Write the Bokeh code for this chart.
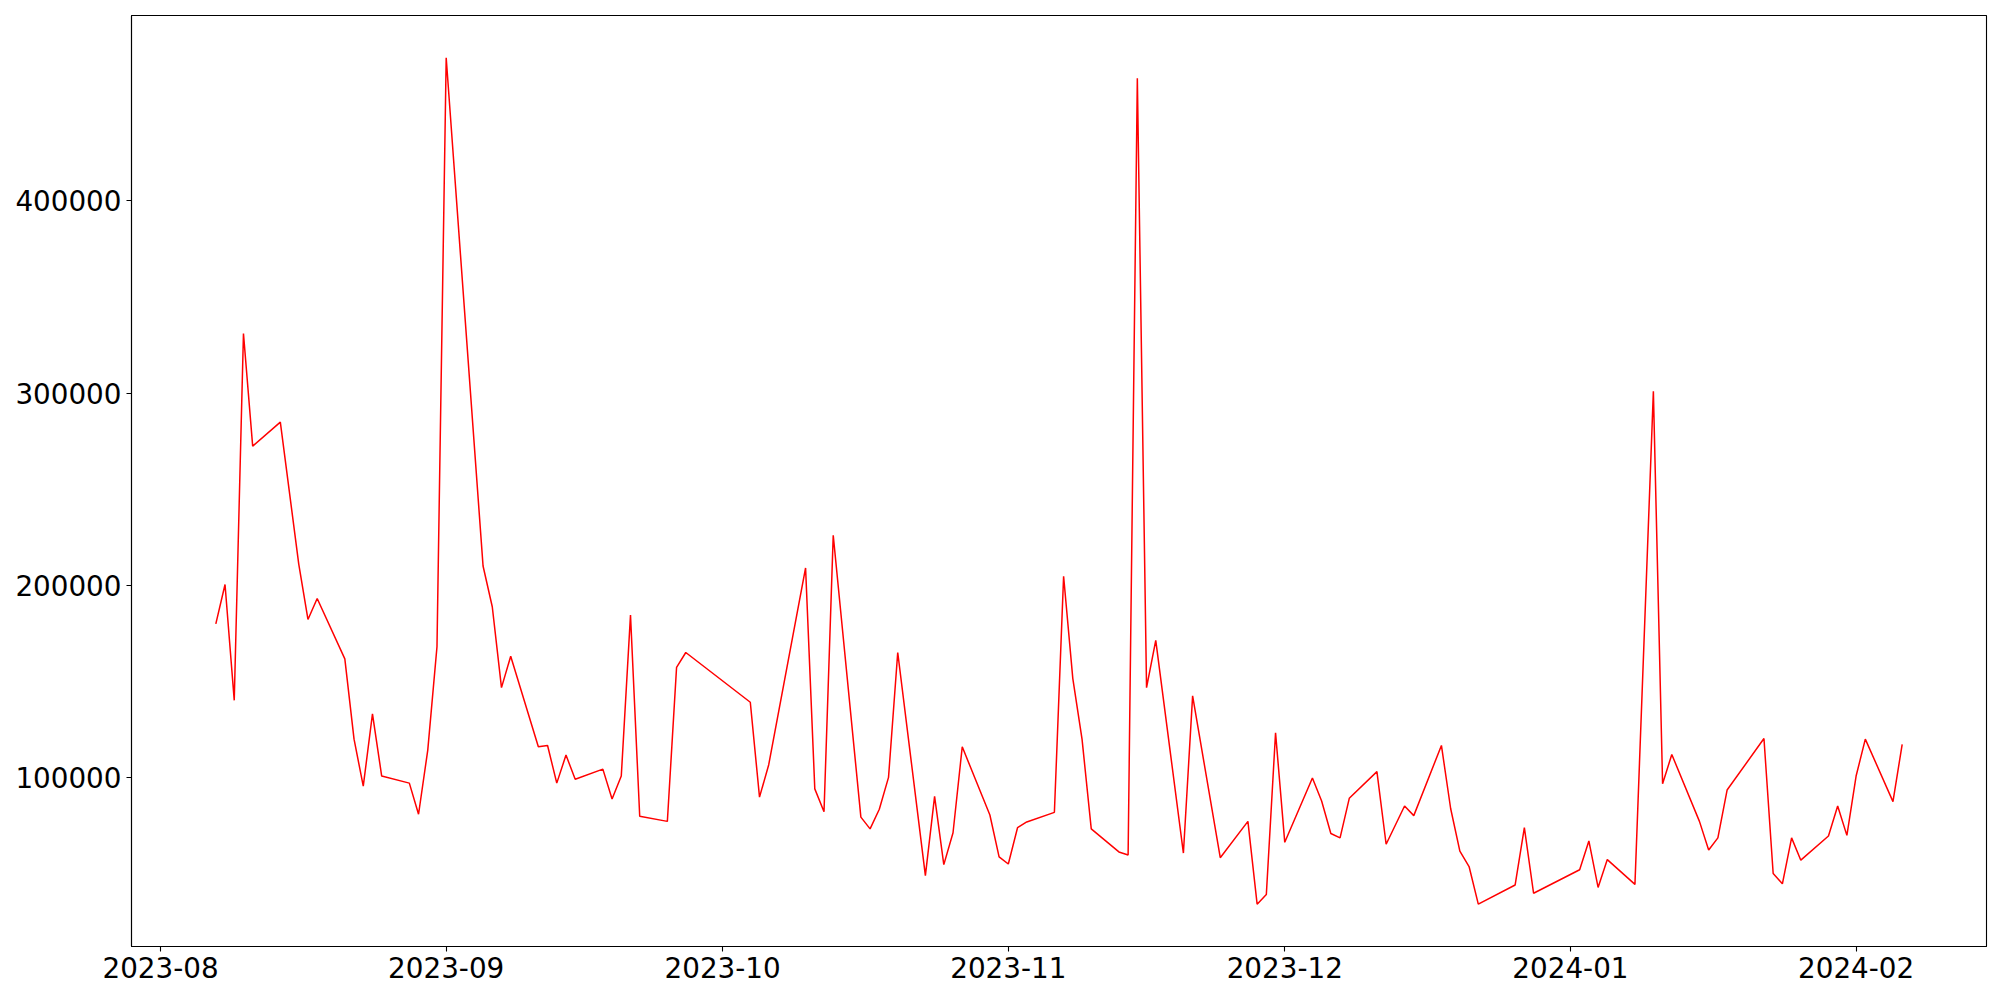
import datetime as dt
from bokeh.plotting import figure
from bokeh.models import Range1d, FixedTicker, DatetimeTickFormatter, BasicTickFormatter
from bokeh.embed import file_html
from bokeh.resources import INLINE

dates = [
    "2023-08-07", "2023-08-08", "2023-08-09", "2023-08-10", "2023-08-11", "2023-08-14",
    "2023-08-16", "2023-08-17", "2023-08-18", "2023-08-21", "2023-08-22", "2023-08-23",
    "2023-08-24", "2023-08-25", "2023-08-28", "2023-08-29", "2023-08-30", "2023-08-31",
    "2023-09-01", "2023-09-05", "2023-09-06", "2023-09-07", "2023-09-08", "2023-09-11",
    "2023-09-12", "2023-09-13", "2023-09-14", "2023-09-15", "2023-09-18", "2023-09-19",
    "2023-09-20", "2023-09-21", "2023-09-22", "2023-09-25", "2023-09-26", "2023-09-27",
    "2023-10-04", "2023-10-05", "2023-10-06", "2023-10-10", "2023-10-11", "2023-10-12",
    "2023-10-13", "2023-10-16", "2023-10-17", "2023-10-18", "2023-10-19", "2023-10-20",
    "2023-10-23", "2023-10-24", "2023-10-25", "2023-10-26", "2023-10-27", "2023-10-30",
    "2023-10-31", "2023-11-01", "2023-11-02", "2023-11-03", "2023-11-06", "2023-11-07",
    "2023-11-08", "2023-11-09", "2023-11-10", "2023-11-13", "2023-11-14", "2023-11-15",
    "2023-11-16", "2023-11-17", "2023-11-20", "2023-11-21", "2023-11-24", "2023-11-27",
    "2023-11-28", "2023-11-29", "2023-11-30", "2023-12-01", "2023-12-04", "2023-12-05",
    "2023-12-06", "2023-12-07", "2023-12-08", "2023-12-11", "2023-12-12", "2023-12-14",
    "2023-12-15", "2023-12-18", "2023-12-19", "2023-12-20", "2023-12-21", "2023-12-22",
    "2023-12-26", "2023-12-27", "2023-12-28", "2024-01-02", "2024-01-03", "2024-01-04",
    "2024-01-05", "2024-01-08", "2024-01-10", "2024-01-11", "2024-01-12", "2024-01-15",
    "2024-01-16", "2024-01-17", "2024-01-18", "2024-01-22", "2024-01-23", "2024-01-24",
    "2024-01-25", "2024-01-26", "2024-01-29", "2024-01-30", "2024-01-31", "2024-02-01",
    "2024-02-02", "2024-02-05", "2024-02-06",
]

values = [
    179900, 200400, 140100, 331000, 272400, 284900,
    211000, 182200, 193100, 161700, 119900, 95400,
    133100, 100700, 97000, 80800, 114200, 168000,
    474500, 210000, 188800, 146700, 163000, 115900,
    116600, 97000, 111600, 99000, 104300, 88700,
    100700, 184500, 79800, 77100, 157300, 165000,
    139100, 89700, 106600, 209000, 94000, 82100,
    226000, 79300, 73200, 83400, 100000, 165000,
    48900, 90100, 54600, 71200, 115900, 80400,
    58600, 54900, 73800, 76800, 81800, 204700,
    151400, 119900, 73200, 61200, 59600, 463900,
    146700, 171300, 60600, 142400, 58200, 77100,
    34000, 39000, 123200, 66200, 99700, 87700,
    70800, 68500, 89100, 103000, 65200, 85100,
    80100, 116600, 83800, 61600, 53600, 34000,
    44000, 73800, 39700, 51900, 66900, 42700,
    57200, 44300, 300900, 96700, 111900, 77100,
    62200, 68500, 93400, 120200, 50000, 44600,
    68500, 56900, 69500, 85100, 69800, 100700,
    119900, 87400, 117200,
]

x_tick_labels = ["2023-08", "2023-09", "2023-10", "2023-11", "2023-12", "2024-01", "2024-02"]
y_ticks = [100000, 200000, 300000, 400000]

x = [dt.datetime.strptime(d, "%Y-%m-%d") for d in dates]

# matplotlib-like 5% margins
xmin, xmax = min(x), max(x)
xpad = (xmax - xmin) * 0.05
ymin, ymax = min(values), max(values)
ypad = (ymax - ymin) * 0.05

FONT = "DejaVu Sans"
FS = "27.8px"

p = figure(
    width=1992, height=992,
    x_axis_type="datetime",
    x_range=Range1d(xmin - xpad, xmax + xpad),
    y_range=Range1d(ymin - ypad, ymax + ypad),
    output_backend="svg", toolbar_location=None,
    min_border_left=131, min_border_right=6, min_border_top=15, min_border_bottom=46,
)

p.line(x, values, line_color="red", line_width=1.5)

def to_ms(s):
    return dt.datetime.strptime(s + "-01", "%Y-%m-%d").replace(tzinfo=dt.timezone.utc).timestamp() * 1000

p.xaxis.ticker = FixedTicker(ticks=[to_ms(s) for s in x_tick_labels])
p.xaxis.formatter = DatetimeTickFormatter(
    milliseconds="%Y-%m", seconds="%Y-%m", minsec="%Y-%m", minutes="%Y-%m",
    hourmin="%Y-%m", hours="%Y-%m", days="%Y-%m", months="%Y-%m", years="%Y-%m",
)
p.yaxis.ticker = FixedTicker(ticks=y_ticks)
p.yaxis.formatter = BasicTickFormatter(use_scientific=False)

for ax in (p.xaxis[0], p.yaxis[0]):
    ax.major_label_text_font = FONT
    ax.major_label_text_font_size = FS
    ax.major_label_text_color = "black"
    ax.axis_line_color = "black"
    ax.axis_line_width = 1.1
    ax.major_tick_line_color = "black"
    ax.major_tick_line_width = 1.1
    ax.major_tick_out = 5
    ax.major_tick_in = 0
    ax.minor_tick_line_color = None
    ax.major_label_standoff = 5

p.xgrid.visible = False
p.ygrid.visible = False
p.outline_line_color = "black"
p.outline_line_alpha = 1.0
p.outline_line_width = 1.1
p.background_fill_color = "white"
p.border_fill_color = "white"

open("out.html", "w").write(file_html(p, INLINE))
